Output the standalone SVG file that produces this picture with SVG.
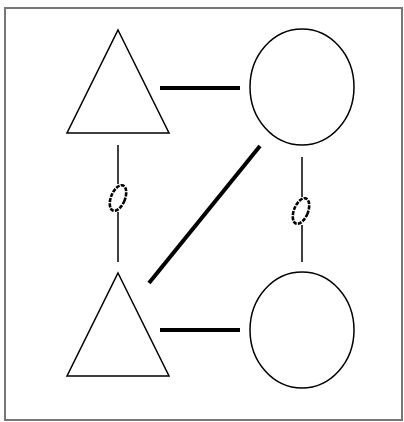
<svg xmlns="http://www.w3.org/2000/svg" width="404" height="422" viewBox="0 0 404 422">
<style>
.shape{fill:#fff;stroke:#000;stroke-width:1.5}
.thick{stroke:#000;stroke-width:4;stroke-linecap:butt}
.thin{stroke:#000;stroke-width:1.5}
.blob{fill:none;stroke:#000;stroke-width:2.6;stroke-dasharray:4 1.2}
</style>
<rect x="5" y="8" width="397" height="412" fill="#fff" stroke="#777" stroke-width="2"/>
<g id="connectors">
<line class="thick" x1="160" y1="88" x2="240" y2="88"/>
<line class="thick" x1="160" y1="330" x2="240" y2="330"/>
<line class="thick" x1="260" y1="146" x2="149" y2="283"/>
<line class="thin" x1="118" y1="145" x2="118" y2="184"/>
<line class="thin" x1="118" y1="212" x2="118" y2="262"/>
<line class="thin" x1="302" y1="157" x2="302" y2="197"/>
<line class="thin" x1="302" y1="225" x2="302" y2="262"/>
<ellipse class="blob" cx="118" cy="198" rx="7" ry="13.5" transform="rotate(22 118 198)"/>
<ellipse class="blob" cx="301" cy="211" rx="7" ry="13.5" transform="rotate(22 301 211)"/>
</g>
<g id="triangle-top"><polygon class="shape" points="118,30 169,133 67,133"/></g>
<g id="circle-top"><ellipse class="shape" cx="302" cy="87" rx="52" ry="58"/></g>
<g id="triangle-bottom"><polygon class="shape" points="118,273 169,376 67,376"/></g>
<g id="circle-bottom"><ellipse class="shape" cx="302" cy="330" rx="52" ry="58"/></g>
</svg>
